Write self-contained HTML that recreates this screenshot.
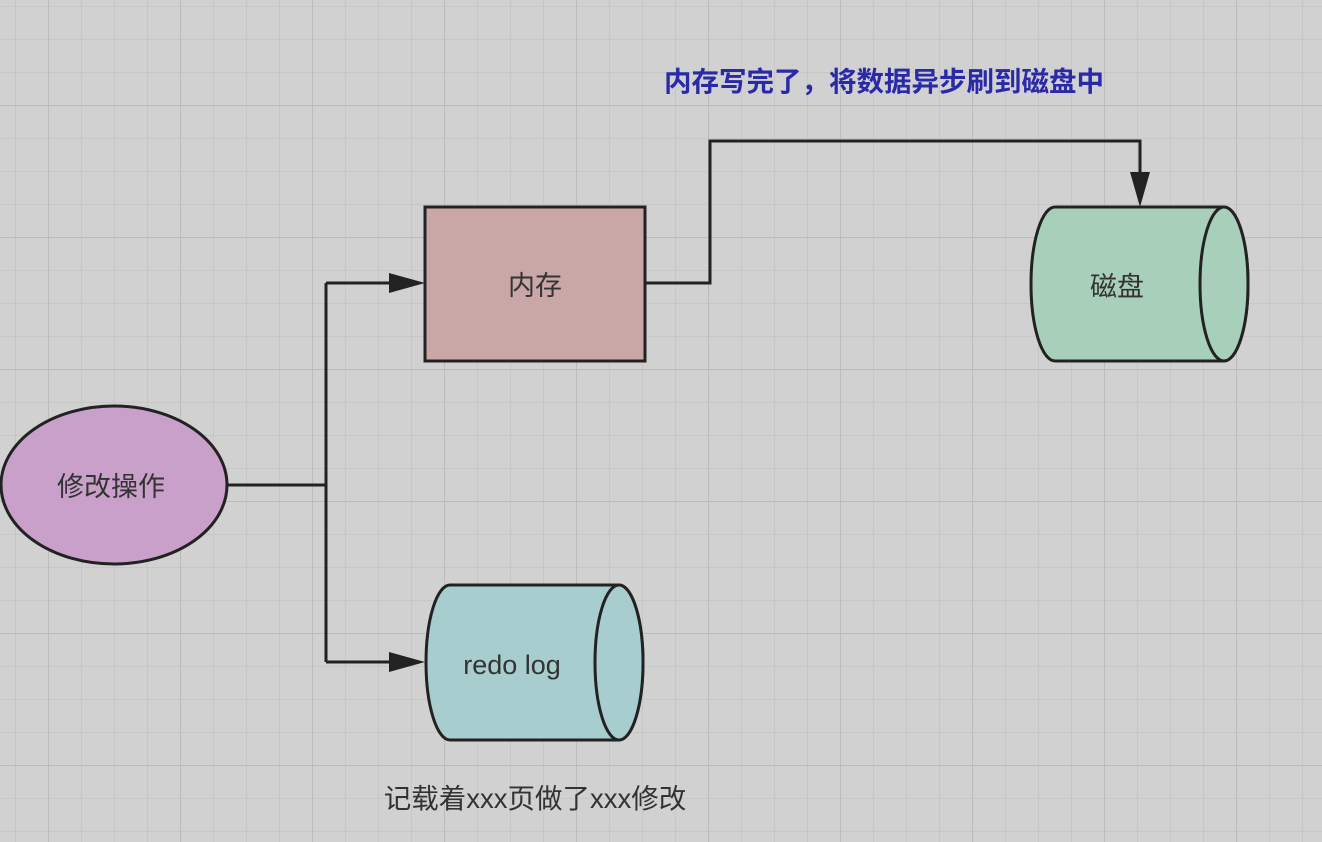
<!DOCTYPE html>
<html><head><meta charset="utf-8"><style>
html,body{margin:0;padding:0;width:1322px;height:842px;overflow:hidden;background:#d1d1d1}
svg{display:block}
text{font-family:"Liberation Sans","Noto Sans CJK SC",sans-serif}
</style></head><body>
<svg width="1322" height="842" xmlns="http://www.w3.org/2000/svg">
<defs>
<pattern id="minor" x="15" y="6" width="33" height="33" patternUnits="userSpaceOnUse">
<path d="M0 0V33M0 0H33" stroke="#c4c4c4" stroke-width="1.5" fill="none"/>
</pattern>
<pattern id="major" x="48" y="105" width="132" height="132" patternUnits="userSpaceOnUse">
<path d="M0 0V132M0 0H132" stroke="#bcbcbc" stroke-width="2" fill="none"/>
</pattern>
</defs>
<rect width="1322" height="842" fill="#d1d1d1"/>
<rect width="1322" height="842" fill="url(#minor)"/>
<rect width="1322" height="842" fill="url(#major)"/>

<g stroke="#222" stroke-width="3" fill="none">
<path d="M228 485H326M326 283V662M326 283H395M326 662H395"/>
<path d="M646 283H710V141H1140V178"/>
</g>
<g fill="#222">
<path d="M425 283L389 273V293Z"/>
<path d="M425 662L389 652V672Z"/>
<path d="M1140 207L1130 172H1150Z"/>
</g>

<rect x="425" y="207" width="220" height="154" fill="#c9a7a7" stroke="#222" stroke-width="3"/>
<text x="535" y="295" font-size="27" text-anchor="middle" fill="#333">内存</text>

<ellipse cx="114" cy="485" rx="113" ry="79" fill="#c8a0c9" stroke="#222" stroke-width="3"/>
<text x="111" y="496" font-size="27" text-anchor="middle" fill="#333">修改操作</text>

<g stroke="#222" stroke-width="3">
<path d="M1055 207H1224A24 77 0 0 1 1224 361H1055A24 77 0 0 1 1055 207Z" fill="#a8cfb9"/>
<ellipse cx="1224" cy="284" rx="24" ry="77" fill="#a8cfb9"/>
<path d="M450 585H619A24 77.5 0 0 1 619 740H450A24 77.5 0 0 1 450 585Z" fill="#a7cdce"/>
<ellipse cx="619" cy="662.5" rx="24" ry="77.5" fill="#a7cdce"/>
</g>
<text x="1117" y="296" font-size="27" text-anchor="middle" fill="#333">磁盘</text>
<text x="512" y="674" font-size="27" text-anchor="middle" fill="#333">redo log</text>

<text x="664" y="91" font-size="27.5" font-weight="bold" fill="#2a2aa8">内存写完了，将数据异步刷到磁盘中</text>
<text x="535" y="808" font-size="27.5" text-anchor="middle" fill="#333">记载着xxx页做了xxx修改</text>
</svg>
</body></html>
